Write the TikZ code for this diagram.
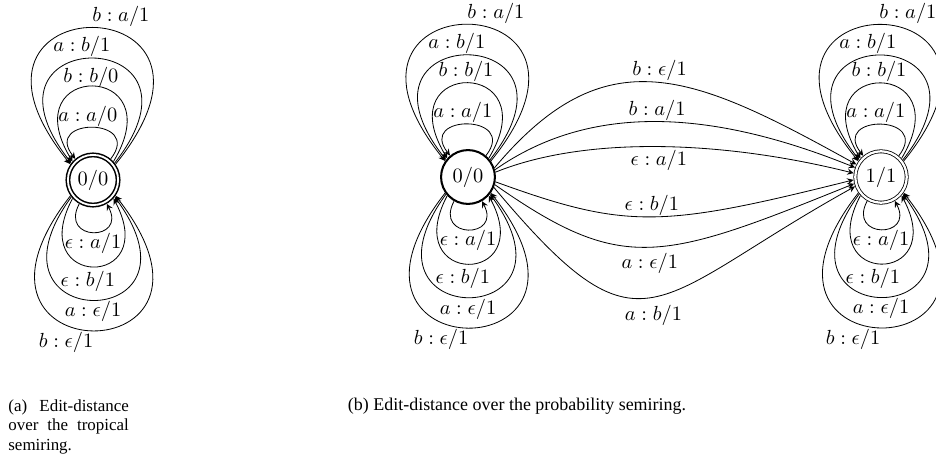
\documentclass[tikz,border=0pt]{standalone}
\usepackage{amsmath,amssymb}
\usepackage{fontspec}
\newfontfamily\capfont{Liberation Serif}
\tikzset{
  state/.style={circle,draw,inner sep=0pt,minimum size=25.2pt},
  startstate/.style={state,line width=1pt,minimum size=26.4pt},
  finalstate/.style={state,double,double distance=1.1pt,outer sep=0.95pt},
  bothstate/.style={state,double,line width=0.75pt,double distance=0.9pt,minimum size=24.6pt,outer sep=1.2pt},
  lab/.style={inner sep=0.5pt},
  capt/.style={font=\capfont\fontsize{8.8pt}{9.6pt}\selectfont,inner sep=0pt}
}

\begin{document}
\begin{tikzpicture}[x=0.49pt,y=0.49pt,>=stealth]
        \useasboundingbox (0,0) rectangle (936,-463);
        \node[bothstate] (q) at (93,-180) {$0/0$};
        \draw[->] (q.50) .. controls +(52:53) and +(128:53) .. node[lab,above,xshift=-2.5pt] {$a:a/0$} (q.130);
        \draw[->] (q.42) .. controls +(59:117) and +(121:117) .. node[lab,above,xshift=-1pt,yshift=-1.5pt] {$b:b/0$} (q.138);
        \draw[->] (q.38) .. controls +(52:177) and +(128:177) .. node[lab,above,xshift=-5.5pt] {$a:b/1$} (q.142);
        \draw[->] (q.35) .. controls +(51:234) and +(129:234) .. node[lab,above,xshift=13.7pt] {$b:a/1$} (q.145);
        \draw[->] (q.240) .. controls +(242:43) and +(298:43) .. node[lab,below,inner sep=0pt] {$\epsilon:a/1$} (q.300);
        \draw[->] (q.222) .. controls +(242:103) and +(298:103) .. node[lab,below,xshift=-2.5pt,inner sep=2pt] {$\epsilon:b/1$} (q.318);
        \draw[->] (q.218) .. controls +(234:170) and +(306:170) .. node[lab,below] {$a:\epsilon/1$} (q.322);
        \draw[->] (q.215) .. controls +(232:228) and +(308:228) .. node[lab,below,xshift=-13.2pt] {$b:\epsilon/1$} (q.325);

        \node[startstate] (p) at (468,-177) {$0/0$};
        \node[finalstate] (r) at (881,-177) {$1/1$};
        \draw[->] (p.50) .. controls +(52:53) and +(128:53) .. node[lab,above,xshift=-2.5pt] {$a:a/1$} (p.130);
        \draw[->] (p.42) .. controls +(59:117) and +(121:117) .. node[lab,above,xshift=-1pt] {$b:b/1$} (p.138);
        \draw[->] (p.38) .. controls +(52:177) and +(128:177) .. node[lab,above,xshift=-5.5pt] {$a:b/1$} (p.142);
        \draw[->] (p.35) .. controls +(51:234) and +(129:234) .. node[lab,above,xshift=13.7pt] {$b:a/1$} (p.145);
        \draw[->] (p.240) .. controls +(242:43) and +(298:43) .. node[lab,below,inner sep=0pt] {$\epsilon:a/1$} (p.300);
        \draw[->] (p.222) .. controls +(242:103) and +(298:103) .. node[lab,below,xshift=-2.5pt,inner sep=2pt] {$\epsilon:b/1$} (p.318);
        \draw[->] (p.218) .. controls +(234:170) and +(306:170) .. node[lab,below] {$a:\epsilon/1$} (p.322);
        \draw[->] (p.215) .. controls +(232:228) and +(308:228) .. node[lab,below,xshift=-13.2pt] {$b:\epsilon/1$} (p.325);

        \draw[->] (r.50) .. controls +(52:53) and +(128:53) .. node[lab,above,xshift=-2.5pt] {$a:a/1$} (r.130);
        \draw[->] (r.42) .. controls +(59:117) and +(121:117) .. node[lab,above,xshift=-1pt] {$b:b/1$} (r.138);
        \draw[->] (r.38) .. controls +(52:177) and +(128:177) .. node[lab,above,xshift=-6.5pt] {$a:b/1$} (r.142);
        \draw[->] (r.35) .. controls +(51:234) and +(129:234) .. node[lab,above,xshift=13.2pt] {$b:a/1$} (r.145);
        \draw[->] (r.240) .. controls +(242:43) and +(298:43) .. node[lab,below,inner sep=0pt] {$\epsilon:a/1$} (r.300);
        \draw[->] (r.222) .. controls +(242:103) and +(298:103) .. node[lab,below,xshift=-4pt,inner sep=2pt] {$\epsilon:b/1$} (r.318);
        \draw[->] (r.218) .. controls +(234:170) and +(306:170) .. node[lab,below] {$a:\epsilon/1$} (r.322);
        \draw[->] (r.215) .. controls +(232:228) and +(308:228) .. node[lab,below,xshift=-13.7pt] {$b:\epsilon/1$} (r.325);

        \draw[->] (p.19) .. controls +(50:173) and +(151:188) .. node[lab,above,xshift=2pt] {$b:\epsilon/1$} (r.153);
        \draw[->] (p.15) .. controls +(35:117) and +(158:155) .. node[lab,above] {$b:a/1$} (r.160);
        \draw[->] (p.10) .. controls +(22:97) and +(166:136) .. node[lab,below,inner sep=1.5pt] {$\epsilon:a/1$} (r.172);
        \draw[->] (p.-10) .. controls +(-20:140) and +(194:198) .. node[lab,above] {$\epsilon:b/1$} (r.186);
        \draw[->] (p.-16) .. controls +(-35:156) and +(202:209) .. node[lab,below,inner sep=3pt] {$a:\epsilon/1$} (r.194);
        \draw[->] (p.-22) .. controls +(-50:234) and +(209:236) .. node[lab,below,inner sep=4pt] {$a:b/1$} (r.200);

        \node[capt,font=\capfont\fontsize{8.3pt}{9.6pt}\selectfont,text width=59pt,align=left,anchor=north west] (capa) at (8,-399) {(a)\hfill Edit-distance\\over\hfill the\hfill tropical\\semiring.};
        \node[capt,anchor=base] (capb) at (517,-411) {(b) Edit-distance over the probability semiring.};
\end{tikzpicture}
\end{document}
